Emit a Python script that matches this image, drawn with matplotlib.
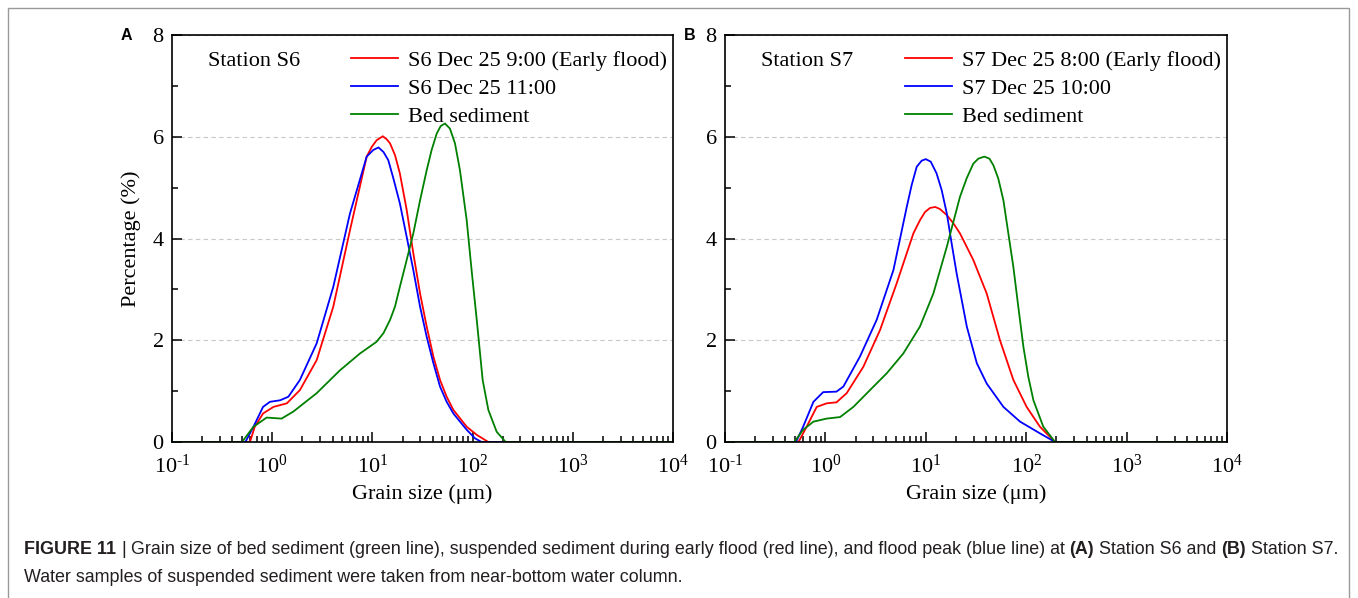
import numpy as np
import matplotlib
matplotlib.use("Agg")
import matplotlib.pyplot as plt
from matplotlib.patches import Rectangle
from matplotlib.ticker import MultipleLocator, LogLocator, NullFormatter

plt.rcParams['font.family'] = ['Liberation Serif', 'DejaVu Serif']
plt.rcParams['mathtext.fontset'] = 'custom'
plt.rcParams['mathtext.rm'] = 'Liberation Serif'
plt.rcParams['mathtext.default'] = 'regular'

# ---- data (grain size in um, percentage) ----
a_red_x = [0.1, 0.60, 0.67, 0.81, 1.03, 1.40, 1.89, 2.78, 4.07, 5.97, 8.77, 9.85, 11.0, 12.7,
           13.9, 15.0, 16.8, 18.8, 22.0, 25.6, 29.9, 34.8, 40.6, 47.3, 55.1, 64.3, 87.3,
           110, 143.6, 10000]
a_red_y = [0, 0, 0.30, 0.56, 0.69, 0.76, 1.02, 1.61, 2.66, 4.16, 5.61, 5.80, 5.93, 6.01,
           5.95, 5.87, 5.64, 5.28, 4.56, 3.71, 2.92, 2.27, 1.68, 1.22, 0.89, 0.63, 0.30,
           0.14, 0, 0]
a_blue_x = [0.1, 0.54, 0.65, 0.81, 0.95, 1.20, 1.45, 1.89, 2.78, 4.07, 5.97, 8.77, 10.2, 11.5,
            12.9, 14.4, 16.2, 18.8, 22.0, 25.6, 29.9, 34.8, 40.6, 47.3, 55.1, 64.3, 87.3,
            106, 123, 10000]
a_blue_y = [0, 0, 0.30, 0.69, 0.79, 0.82, 0.89, 1.22, 1.94, 3.05, 4.49, 5.61, 5.74, 5.79,
            5.70, 5.54, 5.18, 4.69, 4.03, 3.38, 2.66, 2.07, 1.55, 1.09, 0.79, 0.56, 0.24,
            0.07, 0, 0]
a_green_x = [0.1, 0.50, 0.65, 0.88, 1.24, 1.63, 2.78, 4.75, 7.52, 11.0, 12.9, 15.0, 16.8, 18.8,
             22.0, 25.6, 29.9, 34.8, 39.0, 43.8, 48.0, 53.0, 59.4, 66.7, 74.8, 87.3, 97.7,
             110, 126, 143.6, 174, 214, 10000]
a_green_y = [0, 0, 0.30, 0.48, 0.46, 0.60, 0.96, 1.41, 1.74, 1.97, 2.14, 2.40, 2.66, 3.05,
             3.58, 4.10, 4.75, 5.34, 5.74, 6.06, 6.21, 6.26, 6.16, 5.87, 5.34, 4.36, 3.38,
             2.40, 1.22, 0.63, 0.20, 0, 0]

b_red_x = [0.1, 0.54, 0.65, 0.82, 1.03, 1.29, 1.63, 2.39, 3.50, 5.13, 7.52, 8.75, 9.82, 11.0,
           12.4, 13.8, 16.2, 18.8, 21.9, 29.7, 40.4, 54.8, 74.5, 101, 137, 194, 10000]
b_red_y = [0, 0, 0.30, 0.69, 0.76, 0.78, 0.96, 1.48, 2.20, 3.12, 4.10, 4.36, 4.52, 4.60,
           4.62, 4.58, 4.46, 4.30, 4.10, 3.58, 2.92, 2.00, 1.22, 0.69, 0.30, 0, 0]
b_blue_x = [0.1, 0.51, 0.60, 0.76, 0.95, 1.29, 1.51, 2.21, 3.24, 4.76, 6.46, 7.23, 8.12, 9.10,
            10.0, 11.2, 12.8, 14.4, 16.2, 18.1, 20.3, 22.8, 25.6, 32.2, 40.4, 59.3, 86.9,
            137, 194, 10000]
b_blue_y = [0, 0, 0.30, 0.79, 0.98, 0.99, 1.09, 1.68, 2.40, 3.38, 4.62, 5.05, 5.41, 5.53,
            5.56, 5.51, 5.28, 4.95, 4.49, 3.90, 3.31, 2.79, 2.27, 1.55, 1.15, 0.69, 0.40,
            0.17, 0, 0]
b_green_x = [0.1, 0.49, 0.60, 0.76, 1.03, 1.40, 1.90, 2.78, 4.08, 5.97, 8.75, 11.9, 16.2, 21.9,
             25.5, 29.7, 33.4, 38.3, 43.0, 47.1, 52.7, 59.3, 66.4, 74.5, 83.4, 93.8, 105,
             118, 148, 194, 10000]
b_green_y = [0, 0, 0.24, 0.40, 0.46, 0.49, 0.69, 1.02, 1.35, 1.74, 2.27, 2.92, 3.84, 4.82,
             5.18, 5.47, 5.57, 5.61, 5.57, 5.44, 5.18, 4.75, 4.10, 3.44, 2.66, 1.87, 1.28,
             0.82, 0.30, 0, 0]

a_labels = ["S6 Dec 25 9:00 (Early flood)", "S6 Dec 25 11:00", "Bed sediment"]
b_labels = ["S7 Dec 25 8:00 (Early flood)", "S7 Dec 25 10:00", "Bed sediment"]
xtick_vals = [0.1, 1, 10, 100, 1000, 10000]
xtick_labels = ["10$^{\\text{-}1}$", "10$^{0}$", "10$^{1}$", "10$^{2}$", "10$^{3}$", "10$^{4}$"]

W, H = 1358, 598
fig = plt.figure(figsize=(W / 100, H / 100), dpi=100)

colors = ['#ff0000', '#0000ff', '#008000']
FS = 16


def panel(rect, series, labels, station, letter, letter_x, ylabel):
    ax = fig.add_axes(rect)
    for (x, y), c, lab in zip(series, colors, labels):
        ax.plot(x, y, color=c, lw=1.3, label=lab)
    ax.set_xscale('log')
    ax.set_xlim(0.1, 10000)
    ax.set_ylim(0, 8)
    ax.set_xticks(xtick_vals)
    ax.set_xticklabels(xtick_labels)
    ax.xaxis.set_minor_locator(LogLocator(base=10, subs=np.arange(2, 10)))
    ax.xaxis.set_minor_formatter(NullFormatter())
    ax.yaxis.set_major_locator(MultipleLocator(2))
    ax.yaxis.set_minor_locator(MultipleLocator(1))
    ax.tick_params(which='both', direction='in', top=False, right=False,
                   labelsize=FS, width=1.1)
    ax.tick_params(axis='x', which='both', pad=9)
    ax.tick_params(axis='y', which='both', pad=6)
    ax.tick_params(which='major', length=7)
    ax.tick_params(which='minor', length=4)
    ax.yaxis.grid(True, which='major', ls=(0, (4, 3)), color='#c8c8c8', lw=0.8)
    ax.set_axisbelow(True)
    for s in ax.spines.values():
        s.set_linewidth(1.2)
    ax.set_xlabel("Grain size (\u03bcm)", fontsize=FS, labelpad=5)
    if ylabel:
        ax.set_ylabel("Percentage (%)", fontsize=FS, labelpad=8)
    ax.text(0.072, 0.936, station, transform=ax.transAxes, fontsize=FS, va='center')
    ax.legend(loc='upper right', bbox_to_anchor=(0.988, 0.963), frameon=False,
              fontsize=FS, borderaxespad=0, borderpad=0, handlelength=2.1,
              handletextpad=0.45, labelspacing=0.34)
    fig.text(letter_x / W, 1 - 35.5 / H, letter, family=['Liberation Sans'],
             fontweight='bold', fontsize=11.5, ha='center', va='center')
    return ax


panel([172 / W, 1 - 442 / H, 501 / W, 407 / H],
      [(a_red_x, a_red_y), (a_blue_x, a_blue_y), (a_green_x, a_green_y)],
      a_labels, "Station S6", "A", 126, True)
panel([725 / W, 1 - 442 / H, 502 / W, 407 / H],
      [(b_red_x, b_red_y), (b_blue_x, b_blue_y), (b_green_x, b_green_y)],
      b_labels, "Station S7", "B", 690, False)

# outer frame
fig.add_artist(Rectangle((8 / W, -0.01), (1349 - 8) / W, 1.01 - 8 / H,
                         transform=fig.transFigure, fill=False,
                         edgecolor='#999999', lw=1))

# caption with bold pieces
cap_fs = 12.85
cap_col = '#231f20'
renderer = fig.canvas.get_renderer()


def width_px(s, bold):
    t = fig.text(0, 0, s, fontsize=cap_fs, family=['Liberation Sans'],
                 fontweight='bold' if bold else 'normal')
    w = t.get_window_extent(renderer).width
    t.remove()
    return w


space = width_px("x x", False) - width_px("xx", False)


def caption_line(x, y, parts):
    for i, (s, bold) in enumerate(parts):
        if i > 0:
            x += space
        t = fig.text(x / W, 1 - y / H, s, fontsize=cap_fs, family=['Liberation Sans'],
                     fontweight='bold' if bold else 'normal', color=cap_col, va='center')
        x += t.get_window_extent(renderer).width


caption_line(24, 549, [
    ("FIGURE 11", True), ("|", False),
    ("Grain size of bed sediment (green line), suspended sediment during early flood "
     "(red line), and flood peak (blue line) at", False),
    ("(A)", True), ("Station S6 and", False), ("(B)", True), ("Station S7.", False)])
caption_line(24, 577, [
    ("Water samples of suspended sediment were taken from near-bottom water column.", False)])

fig.savefig("out.png", dpi=100)
